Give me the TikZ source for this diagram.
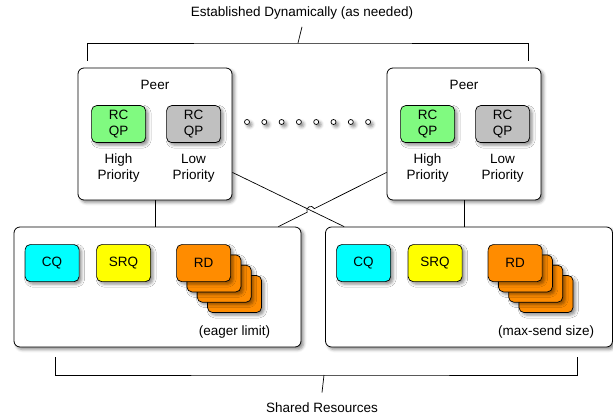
\documentclass[tikz,border=0pt]{standalone}
\usepackage{fontspec}
\setmainfont{Liberation Sans}
\usetikzlibrary{positioning, calc, shadows.blur}

\definecolor{hipri}{RGB}{128,250,128}
\definecolor{lopri}{RGB}{192,192,192}
\definecolor{cqcol}{RGB}{0,255,255}
\definecolor{srqcol}{RGB}{255,255,0}
\definecolor{rdcol}{RGB}{255,140,0}

\tikzset{
  shad/.style={blur shadow={shadow xshift=2.5pt, shadow yshift=-2.5pt, shadow blur radius=3pt, shadow opacity=45}},
  peer/.style={draw, line width=0.8pt, rounded corners=6pt, fill=white, shad, minimum width=154pt, minimum height=132pt, inner sep=0pt},
  shared/.style={draw, line width=0.8pt, rounded corners=6pt, fill=white, shad, minimum width=287pt, minimum height=120pt, inner sep=0pt},
  qp/.style={draw, line width=0.7pt, rounded corners=5pt, shad, minimum width=54pt, minimum height=37pt, inner sep=0pt, align=center},
  res/.style={qp},
  dot/.style={circle, draw, line width=0.7pt, fill=white, minimum size=5pt, inner sep=0pt, shad},
  lbl/.style={align=center}
}

\begin{document}
\begin{tikzpicture}[x=1pt, y=-1pt, node distance=2cm, on grid, font=\fontsize{13.5}{16}\selectfont]
   \useasboundingbox (0,0) rectangle (613,417);

   \node (top) at (302,13) {Established Dynamically (as needed)};
   \node (bot) at (322,408) {Shared Resources};

   % peers
   \node[peer] (lpeer) at (155,134) {};
   \node[peer] (rpeer) at (464,134) {};
   \foreach \p in {lpeer,rpeer} {
     \node (\p-lbl) [below=17pt of \p.north, anchor=center] {Peer};
     \node[qp, fill=hipri] (\p-hi) [below right=56.5pt and 41pt of \p.north west, anchor=center] {RC\\QP};
     \node[qp, fill=lopri] (\p-lo) [right=75pt of \p-hi] {RC\\QP};
     \node[lbl] (\p-hilbl) [below=44pt of \p-hi] {High\\Priority};
     \node[lbl] (\p-lolbl) [below=44pt of \p-lo] {Low\\Priority};
   }

   % shared resources
   \node[shared] (lshr) at (157.5,287) {};
   \node[shared] (rshr) at (469,287) {};
   \foreach \s/\txt in {lshr/(eager limit), rshr/(max-send size)} {
     \node[res, fill=cqcol] (\s-cq) [below right=36.5pt and 38.5pt of \s.north west, anchor=center] {CQ};
     \node[res, fill=srqcol] (\s-srq) [right=71.5pt of \s-cq] {SRQ};
     \coordinate[right=80pt of \s-srq] (\s-rdpos);
     \foreach \i in {3,2,1}
       \node[res, fill=rdcol] (\s-rd\i) at ($(\s-rdpos)+(10.3*\i,10.3*\i)$) {};
     \node[res, fill=rdcol] (\s-rd) at (\s-rdpos) {RD};
     \node (\s-lbl) [below right=105pt and 221pt of \s.north west, anchor=center] {\txt};
   }

   % dots between peers
   \foreach \i in {0,...,7}
     \node[dot] (dot\i) at (247+17.3*\i,122) {};

   % brackets
   \coordinate (tl) at (87,61);
   \coordinate (tr) at (528,61);
   \coordinate (topj) at (298,43);
   \draw[line width=0.7pt] (tl) |- (topj) -| (tr);
   \draw[line width=0.7pt] (topj) -- ([yshift=-4pt]top.south);

   \coordinate (bl) at (55,357);
   \coordinate (br) at (577,357);
   \coordinate (botj) at (324,375);
   \draw[line width=0.7pt] (bl) |- (botj) -| (br);
   \draw[line width=0.7pt] (botj) -- ([yshift=7pt]bot.north);

   % links
   \draw[line width=0.7pt] (lpeer.south) -- (lpeer.south |- lshr.north);
   \draw[line width=0.7pt] (rpeer.south) -- (rpeer.south |- rshr.north);
   \coordinate (a1) at ($(lpeer.south east)+(0,-28)$);
   \coordinate (a2) at ($(rshr.north west)+(19,0)$);
   \coordinate (b1) at ($(rpeer.south west)+(0,-28)$);
   \coordinate (b2) at ($(lshr.north east)+(-23,0)$);
   \coordinate (cross) at (intersection of a1--a2 and b1--b2);
   \draw[line width=0.7pt] (a1) -- (a2);
   \draw[line width=0.7pt] (b2) -- ($(cross)!4pt!(b2)$) to[bend left=90, looseness=1.7] ($(cross)!4pt!(b1)$) -- (b1);
\end{tikzpicture}
\end{document}
